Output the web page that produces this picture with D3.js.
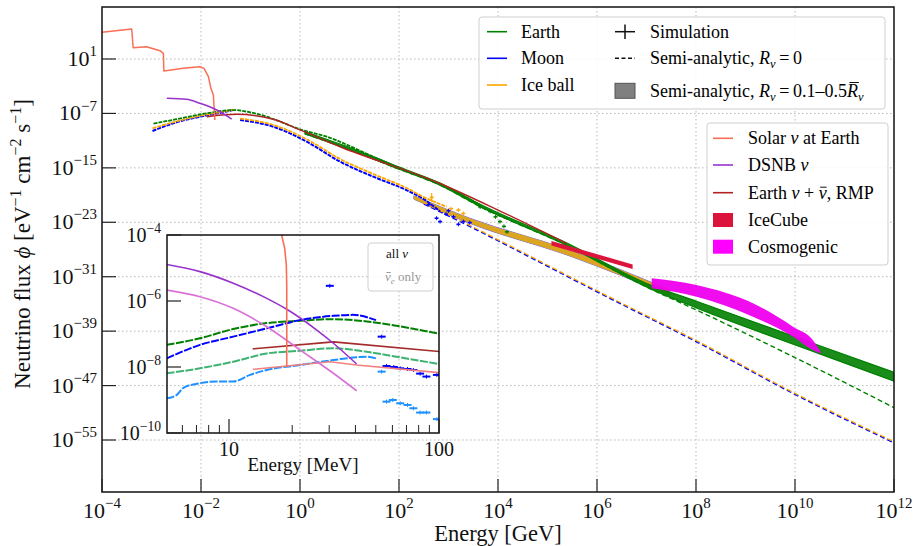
<!DOCTYPE html>
<html lang="en">
<head>
<meta charset="UTF-8">
<title>Neutrino flux</title>
<style>
  body { margin: 0; background: #fff; }
  svg { display: block; font-family: "Liberation Serif", "Times New Roman", Times, serif; }
</style>
</head>
<body>
<svg id="chart" width="916" height="546"></svg>
<script src="https://d3js.org/d3.v7.min.js"></script>
<script>
// all values are [log10 E/GeV, log10 flux] (bands: [logE, upper, lower])
var solarMain = [[-4.0,4.92],[-3.40,5.41],[-3.37,2.66],[-3.10,2.81],[-2.93,2.43],[-2.83,2.22],[-2.76,1.84],
  [-2.75,-0.76],[-2.36,-0.37],[-2.02,-0.13],[-1.94,-0.37],[-1.85,-1.60],[-1.80,-3.31],[-1.75,-4.29],[-1.72,-7.97]];
var dsnbMain = [[-2.69,-4.78],[-2.29,-4.93],[-2.02,-5.51],[-1.68,-6.5],[-1.38,-7.82]];
var rmpMain = [[-1.88,-7.48],[-1.28,-7.13],[-0.54,-7.86],[0.0,-9.43],[0.81,-11.9],[2.83,-17.3],[4.0,-21.2],[5.39,-26.1]];

var earthSim = [[-2.96,-8.5],[-2.5,-7.85],[-1.885,-6.98],[-1.35,-6.5],[-1.0,-6.85],[-0.67,-7.48],[-0.4,-8.21],
  [0.0,-9.33],[0.54,-10.42],[1.48,-13.36],[2.0,-15.0],[2.83,-17.37],[3.64,-20.46]];
var earthScatter = [[3.64,-20.75],[3.84,-21.4],[3.95,-22.2],[4.04,-22.9],[4.12,-23.6],[4.18,-24.4]];
var moonSimLo = [[-2.98,-9.58],[-2.56,-8.45],[-2.02,-7.48],[-1.6,-6.9],[-1.35,-6.5]];
var iceSimLo = [[-2.98,-9.2],[-2.56,-8.3],[-2.02,-7.35],[-1.6,-6.8],[-1.3,-6.4]];
var moonSimHi = [[-1.21,-7.97],[-0.54,-8.95],[0.135,-11.15],[0.81,-14.09],[1.48,-16.3],[2.16,-18.3],[2.5,-19.6],[2.83,-21.4]];
var iceSimHi = [[-1.21,-7.75],[-0.54,-8.7],[0.135,-10.8],[0.81,-13.7],[1.48,-15.9],[2.16,-18.0],[2.5,-19.3],[2.96,-20.7]];
var moonScatter = [[2.6,-20.4],[2.76,-22.4],[2.83,-22.9],[2.95,-21.8],[3.0,-21.3],[3.1,-22.2],[3.2,-23.3],[3.3,-22.9],[3.43,-23.05]];
var iceScatter = [[2.66,-19.35],[3.05,-21.0],[3.2,-21.2],[3.3,-21.7]];
var iceSpike = [2.66, -18.7, -20.0];

var earthBand = [[0.10,-9.7,-10.0],[0.94,-11.85,-12.15],[1.95,-14.75,-15.05],[2.83,-17.25,-17.55],[3.64,-20.35,-20.7],
  [5.39,-26.05,-26.4],[7.07,-32.2,-32.75],[8.01,-34.6,-35.6],[10.5,-41.15,-42.35],[12,-45.05,-46.35]];
var earthDash = [[0.10,-10.0],[0.94,-12.15],[1.95,-15.05],[2.83,-17.55],[3.64,-20.7],[5.39,-26.4],[7.07,-32.75],
  [8.01,-35.9],[10.5,-44.7],[12,-50.25]];
var iceBand = [[2.3,-19.1,-19.6],[3.43,-22.4,-23.15],[5.45,-27.1,-27.95],[7.47,-32.95,-33.75]];
var moonDash = [[2.5,-20.3],[3.1,-22.4],[3.43,-23.6],[6.46,-34.9],[8.01,-40.55],[10.03,-48.4],[12,-55.4]];
var iceDash = [[2.5,-20.15],[3.1,-22.25],[3.43,-23.45],[6.46,-34.75],[8.01,-40.4],[10.03,-48.25],[12,-55.25]];
var iceCube = [[5.08,-25.75,-26.4],[6.72,-29.2,-29.85]];
var cosmo = [[7.105,-31.23,-32.7],[8.01,-32.21,-33.93],[9.15,-34.9,-36.87],[9.96,-38.34,-39.81],
  [10.36,-40.3,-41.77],[10.52,-42.05,-42.3]];

var xTicks = [-4,-2,0,2,4,6,8,10,12];
var yTicks = [1,-7,-15,-23,-31,-39,-47,-55];

// inset: [log10 E/MeV, log10 flux]
var inSolar = [[1.235,-3.5],[1.251,-4.0],[1.265,-4.4],[1.273,-4.9],[1.275,-5.6],[1.2751,-8.0]];
var inDsnb = [[0.703,-4.89],[0.862,-5.11],[1.02,-5.46],[1.18,-5.92],[1.275,-6.25],[1.418,-6.88],[1.497,-7.28],[1.608,-7.91]];
var inDsnbE = [[0.703,-5.67],[0.862,-5.87],[1.02,-6.22],[1.18,-6.78],[1.338,-7.48],[1.497,-8.19],[1.608,-8.72]];
var inRmp = [[1.113,-7.45],[1.497,-7.24],[2.0,-7.53]];
var inRmpE = [[1.113,-8.07],[1.48,-7.84],[1.608,-7.94],[2.0,-8.17]];
var inEarth = [[0.703,-7.33],[0.862,-7.13],[1.02,-6.85],[1.18,-6.67],[1.338,-6.6],[1.497,-6.55],[1.656,-6.62],[1.815,-6.77],[2.0,-6.99]];
var inEarthE = [[0.703,-8.19],[0.862,-8.04],[1.02,-7.84],[1.18,-7.59],[1.338,-7.51],[1.497,-7.43],[1.656,-7.54],[1.815,-7.71],[2.0,-7.91]];
var inMoon = [[0.703,-7.74],[0.862,-7.33],[1.02,-7.08],[1.18,-6.83],[1.338,-6.58],[1.497,-6.45],[1.59,-6.42],[1.70,-6.58]];
var inMoonPts = [[1.48,-5.54],[1.727,-7.08],[1.75,-7.97],[1.785,-8.0],[1.815,-8.04],[1.85,-8.06],[1.878,-8.09],[1.91,-8.2],[1.94,-8.29],[1.99,-8.24]];
var inMoonE = [[0.703,-8.95],[0.75,-8.85],[0.783,-8.63],[0.862,-8.49],[0.94,-8.44],[1.02,-8.44],[1.1,-8.24],[1.18,-8.09],
  [1.338,-7.94],[1.497,-7.79],[1.656,-7.69],[1.70,-7.74]];
var inMoonEPts = [[1.727,-8.14],[1.75,-9.05],[1.78,-9.0],[1.815,-9.1],[1.85,-9.15],[1.878,-9.25],[1.91,-9.38],[1.94,-9.38],[1.99,-9.58]];
var inXMajor = [10, 100];
var inXMinor = [6,7,8,9,20,30,40,50,60,70,80,90];
var inYTicks = [-4,-6,-8,-10];

var svg = d3.select("#chart");

// main scales
var x = d3.scaleLog().domain([1e-4, 1e12]).range([102, 894]);
var y = d3.scaleLog().domain([Math.pow(10, 8.643), Math.pow(10, -62.643)]).range([7, 492]);
var X = function(d) { return x(Math.pow(10, d[0])); };
var Y = function(d) { return y(Math.pow(10, d[1])); };
var line = d3.line().x(X).y(Y).curve(d3.curveMonotoneX);
var sharp = d3.line().x(X).y(Y);
var area = d3.area().x(X).curve(d3.curveMonotoneX)
  .y1(function(d) { return y(Math.pow(10, d[1])); })
  .y0(function(d) { return y(Math.pow(10, d[2])); });

svg.append("clipPath").attr("id", "mainClip").append("rect")
  .attr("x", 102).attr("y", 7).attr("width", 792).attr("height", 485);

// grid
var grid = svg.append("g").attr("stroke", "#b8b8b8").attr("stroke-width", 1).attr("stroke-dasharray", "1.5,2.5");
xTicks.slice(1, -1).forEach(function(e) {
  grid.append("line").attr("x1", x(Math.pow(10, e))).attr("x2", x(Math.pow(10, e))).attr("y1", 7).attr("y2", 492);
});
yTicks.forEach(function(e) {
  grid.append("line").attr("x1", 102).attr("x2", 894).attr("y1", y(Math.pow(10, e))).attr("y2", y(Math.pow(10, e)));
});

var plot = svg.append("g").attr("clip-path", "url(#mainClip)").attr("fill", "none");

// semi-analytic bands and dashed lines
plot.append("path").datum(iceBand).attr("d", area).attr("fill", "#3030ff").attr("fill-opacity", 0.35)
  .attr("stroke", "#7b68ee").attr("stroke-width", 1);
plot.append("path").datum(iceBand).attr("d", area).attr("fill", "#daa520");
plot.append("path").datum(moonDash).attr("d", line).attr("stroke", "blue").attr("stroke-width", 1.6).attr("stroke-dasharray", "5,3");
plot.append("path").datum(iceDash).attr("d", line).attr("stroke", "orange").attr("stroke-width", 1.3).attr("stroke-dasharray", "5,3");
plot.append("path").datum(earthDash).attr("d", line).attr("stroke", "green").attr("stroke-width", 1.4).attr("stroke-dasharray", "5,3");
plot.append("path").datum(earthBand).attr("d", area).attr("fill", "green").attr("fill-opacity", 0.9)
  .attr("stroke", "green").attr("stroke-width", 1.2);

// simulation
function simLine(data, color, w) {
  plot.append("path").datum(data).attr("d", line).attr("stroke", color).attr("stroke-width", w).attr("stroke-dasharray", "4,1");
}
function crosses(data, color) {
  data.forEach(function(d) {
    var cx = X(d), cy = Y(d);
    plot.append("line").attr("x1", cx - 2).attr("x2", cx + 2).attr("y1", cy).attr("y2", cy).attr("stroke", color).attr("stroke-width", 1.6);
    plot.append("line").attr("x1", cx).attr("x2", cx).attr("y1", cy - 2).attr("y2", cy + 2).attr("stroke", color).attr("stroke-width", 1);
  });
}
simLine(moonSimLo, "blue", 2);
simLine(iceSimLo, "orange", 1.8);
simLine(moonSimHi, "blue", 2);
simLine(iceSimHi, "orange", 1.8);
crosses(moonScatter, "blue");
crosses(iceScatter, "orange");
plot.append("line").attr("x1", X(iceSpike)).attr("x2", X(iceSpike))
  .attr("y1", Y([0, iceSpike[1]])).attr("y2", Y([0, iceSpike[2]])).attr("stroke", "orange").attr("stroke-width", 1.2);
simLine(earthSim, "green", 1.8);
crosses(earthScatter, "green");

// reference fluxes
plot.append("path").datum(rmpMain).attr("d", line).attr("stroke", "#b22222").attr("stroke-width", 1.4);
plot.append("path").datum(solarMain).attr("d", sharp).attr("stroke", "#fa6e55").attr("stroke-width", 1.5).attr("stroke-linejoin", "round");
plot.append("path").datum(dsnbMain).attr("d", line).attr("stroke", "#9932cc").attr("stroke-width", 1.5);
plot.append("path").datum(iceCube).attr("d", area).attr("fill", "#dc143c");
plot.append("path").datum(cosmo).attr("d", area).attr("fill", "#ee00ee").attr("fill-opacity", 0.95);

// frame + ticks
svg.append("rect").attr("x", 102).attr("y", 7).attr("width", 792).attr("height", 485)
  .attr("fill", "none").attr("stroke", "#111").attr("stroke-width", 1.5);

function powLabel(g, px, py, exp, anchor, size) {
  var t = g.append("text").attr("x", px).attr("y", py).attr("text-anchor", anchor).style("font-size", size + "px");
  t.append("tspan").text("10");
  t.append("tspan").attr("dy", -size * 0.45).style("font-size", (size * 0.68) + "px")
    .text(exp < 0 ? "\u2212" + (-exp) : String(exp));
}
// bar over one character of a text element (nu-bar, R-bar)
function barOver(g, text, idx, up, shift, color) {
  var n = text.node();
  var a = n.getStartPositionOfChar(idx), b = n.getEndPositionOfChar(idx);
  g.append("line").attr("x1", a.x + shift + 1).attr("x2", b.x + shift - 0.5)
    .attr("y1", a.y - up).attr("y2", a.y - up).attr("stroke", color).attr("stroke-width", 1);
}

var axes = svg.append("g").attr("fill", "#111");
xTicks.forEach(function(e) {
  var px = x(Math.pow(10, e));
  axes.append("line").attr("x1", px).attr("x2", px).attr("y1", 492).attr("y2", 479).attr("stroke", "#222").attr("stroke-width", 1.2);
  powLabel(axes, px, 518, e, "middle", 22);
});
yTicks.forEach(function(e) {
  var py = y(Math.pow(10, e));
  axes.append("line").attr("x1", 102).attr("x2", 116).attr("y1", py).attr("y2", py).attr("stroke", "#222").attr("stroke-width", 1.2);
  powLabel(axes, 97, py + 7, e, "end", 22);
});
axes.append("text").attr("x", 498).attr("y", 541).attr("text-anchor", "middle").style("font-size", "22.5px").text("Energy [GeV]");

var yl = axes.append("text").attr("transform", "translate(30,244) rotate(-90)").attr("text-anchor", "middle").style("font-size", "23px");
yl.append("tspan").text("Neutrino flux ");
yl.append("tspan").style("font-style", "italic").text("\u03d5");
yl.append("tspan").text(" [eV");
yl.append("tspan").attr("dy", -9).style("font-size", "16px").text("\u22121");
yl.append("tspan").attr("dy", 9).text(" cm");
yl.append("tspan").attr("dy", -9).style("font-size", "16px").text("\u22122");
yl.append("tspan").attr("dy", 9).text(" s");
yl.append("tspan").attr("dy", -9).style("font-size", "16px").text("\u22121");
yl.append("tspan").attr("dy", 9).text("]");

// legend 1
var lg = svg.append("g").style("font-size", "18px");
lg.append("rect").attr("x", 479).attr("y", 17).attr("width", 406).attr("height", 92).attr("rx", 3)
  .attr("fill", "#fff").attr("fill-opacity", 0.85).attr("stroke", "#cfcfcf");
[["Earth", "green", 31.7], ["Moon", "blue", 58.3], ["Ice ball", "orange", 85]].forEach(function(r) {
  lg.append("line").attr("x1", 487).attr("x2", 507).attr("y1", r[2]).attr("y2", r[2]).attr("stroke", r[1]).attr("stroke-width", 1.6);
  lg.append("text").attr("x", 521).attr("y", r[2] + 6).text(r[0]);
});
lg.append("line").attr("x1", 615).attr("x2", 635).attr("y1", 31.7).attr("y2", 31.7).attr("stroke", "#111").attr("stroke-width", 1.5);
lg.append("line").attr("x1", 625).attr("x2", 625).attr("y1", 24.5).attr("y2", 39).attr("stroke", "#111").attr("stroke-width", 1.5);
lg.append("text").attr("x", 650).attr("y", 37.7).text("Simulation");
lg.append("line").attr("x1", 615).attr("x2", 635).attr("y1", 58.3).attr("y2", 58.3).attr("stroke", "#111").attr("stroke-width", 1.4).attr("stroke-dasharray", "4,2.5");
var t2 = lg.append("text").attr("x", 650).attr("y", 64.3);
t2.append("tspan").text("Semi-analytic, ");
t2.append("tspan").style("font-style", "italic").text("R");
t2.append("tspan").attr("dy", 4).style("font-size", "12.5px").style("font-style", "italic").text("\u03bd");
t2.append("tspan").attr("dy", -4).text("\u2009=\u20090");
lg.append("rect").attr("x", 615).attr("y", 83.3).attr("width", 20).attr("height", 15).attr("fill", "#808080").attr("stroke", "#555");
var t3 = lg.append("text").attr("x", 650).attr("y", 97);
t3.append("tspan").text("Semi-analytic, ");
t3.append("tspan").style("font-style", "italic").text("R");
t3.append("tspan").attr("dy", 4).style("font-size", "12.5px").style("font-style", "italic").text("\u03bd");
t3.append("tspan").attr("dy", -4).text("\u2009=\u20090.1\u20130.5");
t3.append("tspan").style("font-style", "italic").text("R");
t3.append("tspan").attr("dy", 4).style("font-size", "12.5px").style("font-style", "italic").text("\u03bd");
barOver(lg, t3, 27, 14.5, 1.5, "#111");

// legend 2
lg.append("rect").attr("x", 707).attr("y", 123).attr("width", 181).attr("height", 142).attr("rx", 3)
  .attr("fill", "#fff").attr("fill-opacity", 0.85).attr("stroke", "#cfcfcf");
[["#fa6e55", 138.3], ["#9932cc", 165], ["#b22222", 192.7]].forEach(function(r) {
  lg.append("line").attr("x1", 713).attr("x2", 733).attr("y1", r[1]).attr("y2", r[1]).attr("stroke", r[0]).attr("stroke-width", 1.6);
});
var s1 = lg.append("text").attr("x", 748).attr("y", 144.3);
s1.append("tspan").text("Solar ");
s1.append("tspan").style("font-style", "italic").text("\u03bd");
s1.append("tspan").text(" at Earth");
var s2 = lg.append("text").attr("x", 748).attr("y", 171);
s2.append("tspan").text("DSNB ");
s2.append("tspan").style("font-style", "italic").text("\u03bd");
var s3 = lg.append("text").attr("x", 748).attr("y", 198.7);
s3.append("tspan").text("Earth ");
s3.append("tspan").style("font-style", "italic").text("\u03bd");
s3.append("tspan").text(" + ");
s3.append("tspan").style("font-style", "italic").text("\u03bd");
s3.append("tspan").text(", RMP");
barOver(lg, s3, 10, 11.5, 0.5, "#111");
lg.append("rect").attr("x", 713).attr("y", 213).attr("width", 20).attr("height", 14).attr("fill", "#dc143c");
lg.append("text").attr("x", 748).attr("y", 226).text("IceCube");
lg.append("rect").attr("x", 713).attr("y", 239.7).attr("width", 20).attr("height", 14).attr("fill", "#ff00ff");
lg.append("text").attr("x", 748).attr("y", 252.7).text("Cosmogenic");

// inset
var ix = d3.scaleLog().domain([Math.pow(10, 0.7048), 100]).range([167, 439]);
var iy = d3.scaleLog().domain([1e-4, 1e-10]).range([235, 433]);
var IX = function(d) { return ix(Math.pow(10, d[0])); };
var IY = function(d) { return iy(Math.pow(10, d[1])); };
var iline = d3.line().x(IX).y(IY).curve(d3.curveMonotoneX);
var isharp = d3.line().x(IX).y(IY);

svg.append("clipPath").attr("id", "inClip").append("rect")
  .attr("x", 167).attr("y", 235).attr("width", 272).attr("height", 198);
var ins = svg.append("g").attr("clip-path", "url(#inClip)").attr("fill", "none");

function inCurve(data, color, w, gen) {
  ins.append("path").datum(data).attr("d", gen || iline).attr("stroke", color).attr("stroke-width", w);
}
function inBins(data, color) {
  ins.append("path").datum(data).attr("d", iline).attr("stroke", color).attr("stroke-width", 2).attr("stroke-dasharray", "8,1.5");
}
function inPts(data, color) {
  data.forEach(function(d) {
    var cx = IX(d), cy = IY(d);
    ins.append("line").attr("x1", cx - 4).attr("x2", cx + 4).attr("y1", cy).attr("y2", cy).attr("stroke", color).attr("stroke-width", 2);
    ins.append("line").attr("x1", cx).attr("x2", cx).attr("y1", cy - 2).attr("y2", cy + 2).attr("stroke", color).attr("stroke-width", 1);
  });
}
inBins(inEarth, "green");
inBins(inEarthE, "#3cb371");
inBins(inMoon, "blue");
inBins(inMoonE, "#1e90ff");
inPts(inMoonPts, "blue");
inPts(inMoonEPts, "#1e90ff");
inCurve(inRmp, "#a52a2a", 1.6, isharp);
inCurve(inRmpE, "#f08080", 1.6, isharp);
inCurve(inDsnb, "#9932cc", 1.6);
inCurve(inDsnbE, "#da70d6", 1.6);
inCurve(inSolar, "#fa6e55", 1.6, isharp);

svg.append("rect").attr("x", 167).attr("y", 235).attr("width", 272).attr("height", 198)
  .attr("fill", "none").attr("stroke", "#111").attr("stroke-width", 1.5);

var iax = svg.append("g").attr("fill", "#111");
inXMajor.forEach(function(v) {
  iax.append("line").attr("x1", ix(v)).attr("x2", ix(v)).attr("y1", 433).attr("y2", 419).attr("stroke", "#222").attr("stroke-width", 1.2);
  iax.append("text").attr("x", ix(v)).attr("y", 456).attr("text-anchor", "middle").style("font-size", "20px").text(v);
});
inXMinor.forEach(function(v) {
  iax.append("line").attr("x1", ix(v)).attr("x2", ix(v)).attr("y1", 433).attr("y2", 425).attr("stroke", "#222").attr("stroke-width", 1);
});
inYTicks.forEach(function(e) {
  var py = iy(Math.pow(10, e));
  iax.append("line").attr("x1", 167).attr("x2", 181).attr("y1", py).attr("y2", py).attr("stroke", "#222").attr("stroke-width", 1.2);
  powLabel(iax, 161, py + 7, e, "end", 20);
});
iax.append("text").attr("x", 303).attr("y", 471).attr("text-anchor", "middle").style("font-size", "19px").text("Energy [MeV]");

// inset legend
iax.append("rect").attr("x", 368).attr("y", 243).attr("width", 65).attr("height", 48).attr("rx", 3)
  .attr("fill", "#fff").attr("fill-opacity", 0.85).attr("stroke", "#cfcfcf");
var a1 = iax.append("text").attr("x", 386).attr("y", 258).style("font-size", "13px");
a1.append("tspan").text("all ");
a1.append("tspan").style("font-style", "italic").text("\u03bd");
var a2 = iax.append("text").attr("x", 385).attr("y", 281).style("font-size", "13px").attr("fill", "#999");
a2.append("tspan").style("font-style", "italic").text("\u03bd");
a2.append("tspan").attr("dy", 3).style("font-size", "9px").style("font-style", "italic").text("e");
a2.append("tspan").attr("dy", -3).text(" only");
barOver(iax, a2, 0, 8.5, 0.5, "#999");
</script>
</body>
</html>
